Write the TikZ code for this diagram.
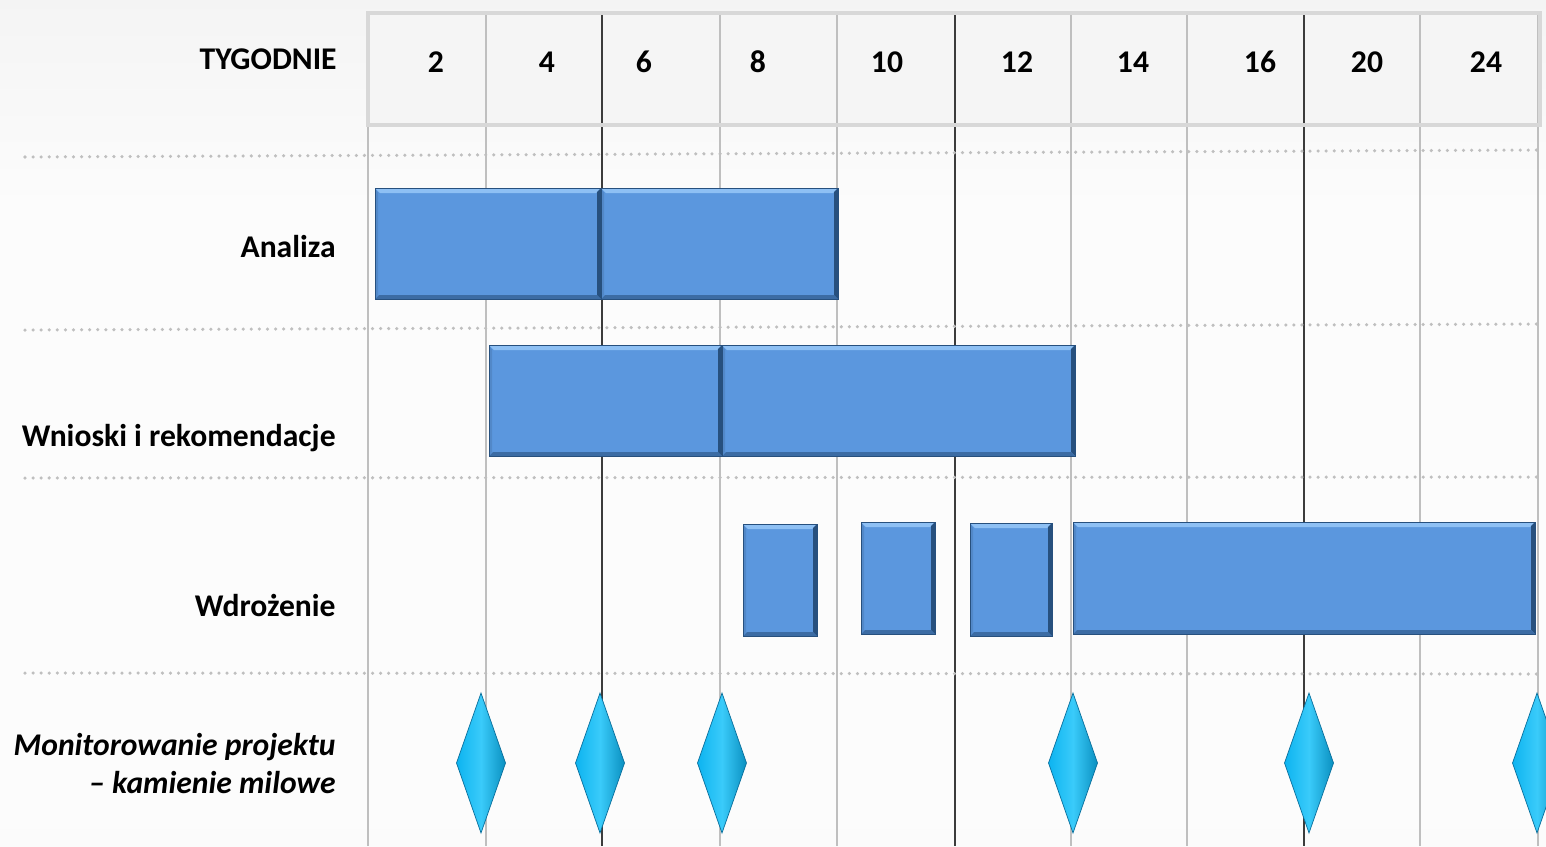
\documentclass[tikz,border=0pt]{standalone}
\usepackage{fontspec}
\setmainfont{Carlito}
\usetikzlibrary{shapes.geometric}
\definecolor{cbar}{HTML}{5B97DE}
\definecolor{cbarlight}{HTML}{8EC0F4}
\definecolor{cbardark}{HTML}{27507E}
\definecolor{cmile}{HTML}{0DB4F0}
\definecolor{cmilelight}{HTML}{3ACBFA}
\definecolor{cmiledark}{HTML}{0A6F9C}
\definecolor{cgrid}{HTML}{BFBFBF}
\definecolor{cgriddark}{HTML}{3C3C3C}
\definecolor{chead}{HTML}{F5F5F5}
\definecolor{cheadline}{HTML}{D8D8D8}
% runs top to bottom here, because the picture's y axis points down
\pgfdeclareverticalshading{bgshade}{100bp}{color(0bp)=(black!6); color(12bp)=(black!4);
  color(28bp)=(black!1); color(62bp)=(black!1); color(82bp)=(black!6); color(100bp)=(black!10)}
\tikzset{
  rowlabel/.style={anchor=base east, align=right, inner sep=0pt,
    font=\fontsize{18}{21.5}\selectfont\bfseries},
  weeklabel/.style={anchor=base, inner sep=0pt,
    font=\fontsize{18}{21.5}\selectfont\bfseries},
  gridline/.style={cgrid, line width=1.1pt},
  phaseline/.style={cgriddark, line width=1.2pt},
  rowsep/.style={cgrid, line width=2pt, dash pattern=on 0pt off 4.6pt, line cap=round},
  milestone/.style={diamond, draw=cmiledark, line width=0.4pt,
    left color=cmile, right color=cmile!80!black, middle color=cmilelight,
    minimum width=0.98cm, minimum height=2.8cm, inner sep=0pt, outer sep=0pt}
}
% bevelled task bar: left, top, right, bottom (px)
\newcommand{\ganttbar}[4]{%
  \fill[cbar] (#1,#2) rectangle (#3,#4);
  \fill[cbarlight] (#1,#2) -- (#3,#2) -- (#3-5,#2+5) -- (#1+5,#2+5) -- cycle;
  \fill[cbardark] (#3,#2) -- (#3,#4) -- (#3-4,#4-4) -- (#3-4,#2+4) -- cycle;
  \fill[cbardark!60!cbar] (#1,#4) -- (#3,#4) -- (#3-4,#4-4) -- (#1+4,#4-4) -- cycle;
  \fill[cbar!90!black] (#1,#2) -- (#1+3,#2+5) -- (#1+3,#4-4) -- (#1,#4) -- cycle;
  \draw[cbardark, line width=0.4pt] (#1,#2) rectangle (#3,#4);
}

\begin{document}
\begin{tikzpicture}[x=0.02cm, y=-0.02cm]
  \useasboundingbox (0,0) rectangle (1546,846);
  \shade[shading=bgshade] (0,0) rectangle (1546,846);

  % header
  \fill[chead] (368,13) rectangle (1540,125);
  \foreach \x in {368,486,720,837,1071,1187,1420,1538}
    \draw[gridline] (\x,13) -- (\x,846);
  \foreach \x in {602,955,1304}
    \draw[phaseline] (\x,13) -- (\x,846);
  \draw[cheadline, line width=1.8pt] (368,13) rectangle (1540,125);

  \node[rowlabel] (hdr) at (337,69) {TYGODNIE};
  \foreach \x/\w in {436/2,547/4,644/6,758/8,887/10,1017/12,1133/14,1260/16,1367/20,1486/24}
    \node[weeklabel] (w\w) at (\x,72) {\w};

  % row separators
  \draw[rowsep] (25,157) -- (1540,150);
  \draw[rowsep] (25,330) -- (1540,324);
  \draw[rowsep] (25,478) -- (1540,477);
  \draw[rowsep] (25,673) -- (1540,674);

  % tasks
  \node[rowlabel] (analiza) at (336,257) {Analiza};
  \node[rowlabel] (wnioski) at (336,446) {Wnioski i rekomendacje};
  \node[rowlabel] (wdrozenie) at (336,616) {Wdrożenie};
  \node[rowlabel, font=\fontsize{18}{21.5}\selectfont\bfseries\itshape] (monit) at (336,793)
    {Monitorowanie projektu\\– kamienie milowe};

  \ganttbar{375}{188}{601}{299}
  \ganttbar{601}{188}{838}{299}
  \ganttbar{489}{345}{722}{456}
  \ganttbar{722}{345}{1075}{456}
  \ganttbar{743}{524}{817}{636}
  \ganttbar{861}{522}{935}{634}
  \ganttbar{970}{523}{1052}{636}
  \ganttbar{1073}{522}{1535}{634}

  % milestones
  \foreach \x [count=\i] in {481,600,722,1073,1309,1537}
    \node[milestone] (m\i) at (\x,763) {};
\end{tikzpicture}
\end{document}
